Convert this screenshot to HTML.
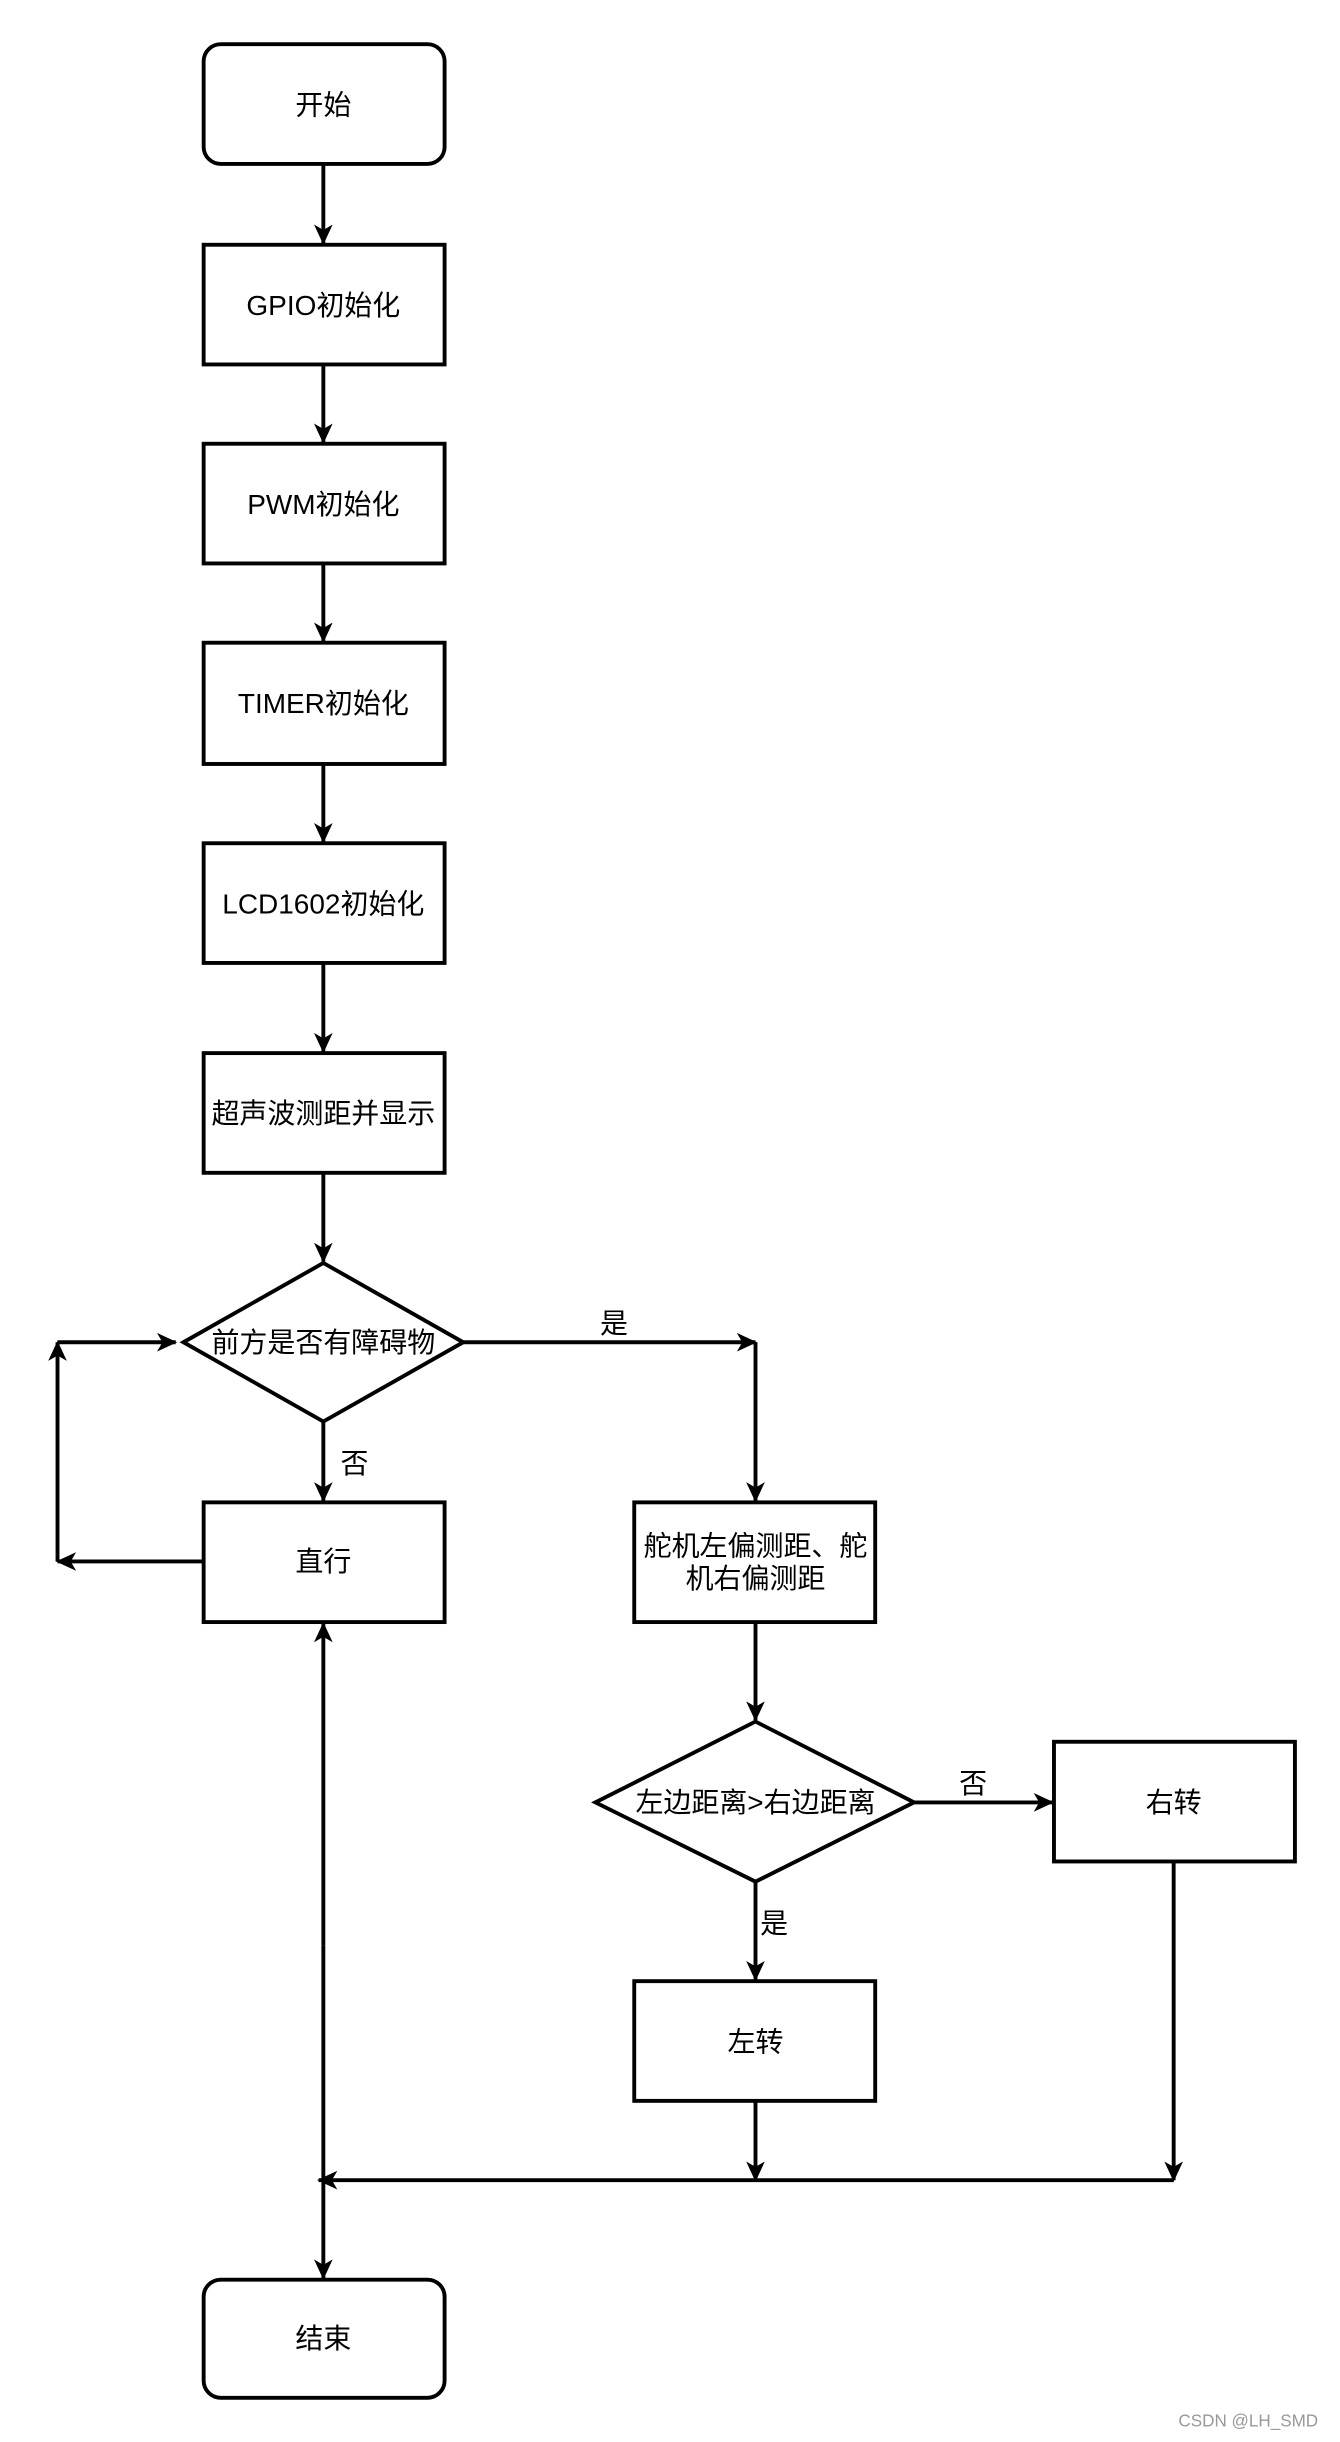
<!DOCTYPE html>
<html><head><meta charset="utf-8"><style>
html,body{margin:0;padding:0;background:#fff;}
svg{display:block;}
text{font-family:"Liberation Sans","Noto Sans CJK SC",sans-serif;font-size:18px;fill:#000;text-anchor:middle;dominant-baseline:central;}
</style></head><body>
<svg width="1340" height="2442" viewBox="0 0 862 1568" xmlns="http://www.w3.org/2000/svg">
<defs>
<marker id="a" markerWidth="14" markerHeight="12" refX="12" refY="6" orient="auto" markerUnits="userSpaceOnUse">
<path d="M0,0 L13,6 L0,12 L3.5,6 Z" fill="#000"/>
</marker>
</defs>
<g fill="#fff" stroke="#000" stroke-width="2.5">
<rect x="131" y="27" width="155" height="77" rx="11"/>
<rect x="131" y="156" width="155" height="77"/>
<rect x="131" y="284" width="155" height="77"/>
<rect x="131" y="412" width="155" height="78"/>
<rect x="131" y="541" width="155" height="77"/>
<rect x="131" y="676" width="155" height="77"/>
<polygon points="118,862 208,811 298,862 208,913"/>
<rect x="131" y="965" width="155" height="77"/>
<rect x="408" y="965" width="155" height="77"/>
<polygon points="383,1158 486,1106 588,1158 486,1209"/>
<rect x="678" y="1119" width="155" height="77"/>
<rect x="408" y="1273" width="155" height="77"/>
<rect x="131" y="1465" width="155" height="76" rx="11"/>
</g>
<g fill="none" stroke="#000" stroke-width="2.5" marker-end="url(#a)">
<line x1="208" y1="104" x2="208" y2="155"/>
<line x1="208" y1="233" x2="208" y2="283"/>
<line x1="208" y1="361" x2="208" y2="411"/>
<line x1="208" y1="490" x2="208" y2="540"/>
<line x1="208" y1="618" x2="208" y2="675"/>
<line x1="208" y1="753" x2="208" y2="810"/>
<line x1="208" y1="913" x2="208" y2="964"/>
<line x1="298" y1="862" x2="486" y2="862"/>
<line x1="486" y1="862" x2="486" y2="964"/>
<line x1="131" y1="1003" x2="37" y2="1003"/>
<line x1="37" y1="1003" x2="37" y2="862"/>
<line x1="37" y1="862" x2="113" y2="862"/>
<line x1="486" y1="1042" x2="486" y2="1105"/>
<line x1="588" y1="1158" x2="677" y2="1158"/>
<line x1="486" y1="1209" x2="486" y2="1272"/>
<line x1="486" y1="1350" x2="486" y2="1401"/>
<line x1="755" y1="1196" x2="755" y2="1401"/>
<line x1="755" y1="1401" x2="205" y2="1401"/>
<line x1="208" y1="1250" x2="208" y2="1043"/>
<line x1="208" y1="1250" x2="208" y2="1464"/>
</g>
<text x="208" y="66">开始</text>
<text x="208" y="195">GPIO初始化</text>
<text x="208" y="323">PWM初始化</text>
<text x="208" y="451">TIMER初始化</text>
<text x="208" y="580">LCD1602初始化</text>
<text x="208" y="715">超声波测距并显示</text>
<text x="208" y="862">前方是否有障碍物</text>
<text x="208" y="1003">直行</text>
<text x="486" y="993">舵机左偏测距、舵</text>
<text x="486" y="1014">机右偏测距</text>
<text x="486" y="1158">左边距离&gt;右边距离</text>
<text x="755" y="1158">右转</text>
<text x="486" y="1312">左转</text>
<text x="208" y="1503">结束</text>
<text x="395" y="850">是</text>
<text x="228" y="940">否</text>
<text x="626" y="1146">否</text>
<text x="498" y="1236">是</text>
<text x="803" y="1556" style="font-size:11px;fill:#999">CSDN @LH_SMD</text>
</svg>
</body></html>
